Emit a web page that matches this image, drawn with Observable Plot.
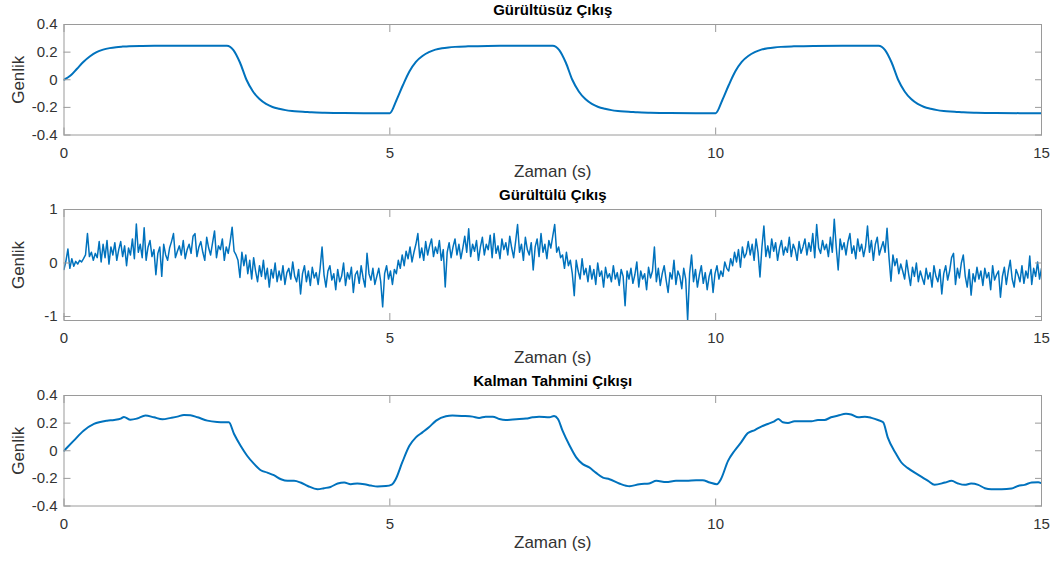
<!DOCTYPE html>
<html><head><meta charset="utf-8">
<script src="https://cdn.jsdelivr.net/npm/d3@7"></script>
<script src="https://cdn.jsdelivr.net/npm/@observablehq/plot@0.6"></script>
<style>
body{margin:0;background:#fff}
#wrap{position:relative;width:1056px;height:562px;overflow:hidden}
#wrap svg{position:absolute;left:0}
</style>
</head><body><div id="wrap"></div>
<script>
// ---------- data ----------
const titles = ["Gürültüsüz Çıkış", "Gürültülü Çıkış", "Kalman Tahmini Çıkışı"];
const xLabel = "Zaman (s)";
const yLabel = "Genlik";
const xTicks = [0, 5, 10, 15];
const yTicksSmall = [-0.4, -0.2, 0, 0.2, 0.4];
const yTicksNoisy = [-1, 0, 1];

// noise-free output
const timeTrue = [0,0.1,0.2,0.3,0.4,0.5,0.6,0.7,0.8,0.9,1.0,1.2,1.5,2.0,2.5,
 2.6,2.7,2.8,2.9,3.0,3.1,3.2,3.3,3.4,3.5,3.6,3.7,3.8,4.0,4.3,5.0,
 5.1,5.2,5.3,5.4,5.5,5.6,5.7,5.8,5.9,6.0,6.2,6.5,7.0,7.5,
 7.6,7.7,7.8,7.9,8.0,8.1,8.2,8.3,8.4,8.5,8.6,8.7,8.8,9.0,9.3,10.0,
 10.1,10.2,10.3,10.4,10.5,10.6,10.7,10.8,10.9,11.0,11.2,11.5,12.0,12.5,
 12.6,12.7,12.8,12.9,13.0,13.1,13.2,13.3,13.4,13.5,13.6,13.7,13.8,14.0,14.3,15.0];
const yTrue = [0,0.03,0.08,0.13,0.17,0.20,0.218,0.229,0.236,0.240,0.243,0.245,0.246,0.246,0.246,
 0.215,0.125,0.0,-0.085,-0.14,-0.175,-0.197,-0.21,-0.22,-0.226,-0.23,-0.233,-0.236,-0.239,-0.241,-0.242,
 -0.15,-0.04,0.06,0.13,0.172,0.200,0.218,0.228,0.234,0.238,0.242,0.245,0.246,0.246,
 0.215,0.125,0.0,-0.085,-0.14,-0.175,-0.197,-0.21,-0.22,-0.226,-0.23,-0.233,-0.236,-0.239,-0.241,-0.242,
 -0.15,-0.04,0.06,0.13,0.172,0.200,0.218,0.228,0.234,0.238,0.242,0.245,0.246,0.246,
 0.215,0.125,0.0,-0.085,-0.14,-0.175,-0.197,-0.21,-0.22,-0.226,-0.23,-0.233,-0.236,-0.239,-0.241,-0.242];

// noisy output, sampled every noisyDt seconds
const noisyDt = 0.03;
const yNoisy = [
 -0.12,0.04,0.26,-0.10,0.08,-0.06,0.03,-0.02,0.05,0.02,
 0.08,0.15,0.55,0.12,0.20,0.05,0.18,0.10,0.40,0.02,
 0.35,0.10,0.42,-0.02,0.30,0.15,0.38,0.05,0.25,0.40,
 0.12,0.32,-0.05,0.28,0.15,0.45,0.08,0.73,0.20,0.35,
 0.10,0.66,0.05,0.30,0.42,0.12,0.25,-0.22,0.18,0.30,
 -0.25,0.35,0.15,0.05,0.28,0.40,0.55,0.10,0.22,0.32,
 0.15,0.42,0.08,0.25,0.35,0.18,0.50,0.55,0.12,0.30,
 0.40,0.20,0.05,0.48,0.28,0.15,0.38,0.60,0.10,0.32,
 0.25,0.45,0.05,0.30,0.18,0.40,0.67,0.22,0.15,0.05,
 -0.27,0.20,-0.05,0.15,-0.20,0.05,-0.30,0.10,-0.15,-0.35,
 -0.05,-0.25,0.05,-0.30,-0.10,-0.45,-0.12,-0.28,0.00,-0.35,
 -0.15,-0.32,-0.05,-0.40,-0.18,-0.10,-0.30,0.02,-0.25,-0.35,
 -0.12,-0.58,-0.20,-0.05,-0.35,-0.15,-0.42,-0.08,-0.28,-0.18,
 -0.40,-0.10,0.30,-0.22,-0.45,-0.15,-0.05,-0.32,-0.20,-0.50,
 -0.12,-0.35,-0.25,0.00,-0.42,-0.18,-0.30,-0.08,-0.55,-0.22,
 -0.15,-0.38,-0.05,-0.28,-0.45,0.18,-0.20,-0.32,-0.10,-0.40,
 -0.25,-0.10,-0.35,-0.82,-0.20,-0.05,-0.30,-0.15,-0.40,-0.12,
 -0.20,0.05,-0.10,0.15,-0.05,0.22,0.08,0.30,0.02,0.20,
 0.35,0.55,0.10,0.28,0.05,0.40,0.15,0.32,0.45,0.12,
 0.30,0.18,0.42,0.05,0.25,-0.45,0.20,0.38,0.10,0.30,
 0.45,0.15,0.35,0.08,0.28,0.50,0.20,0.64,0.12,0.35,
 0.22,0.42,0.05,0.30,0.48,0.15,0.35,0.25,0.52,0.10,
 0.55,0.18,0.32,0.08,0.45,0.25,0.38,0.15,0.50,0.28,
 0.10,0.40,0.72,0.20,0.35,0.05,0.48,0.25,0.15,0.38,
 -0.13,0.30,0.45,0.12,0.55,0.20,0.35,0.08,0.42,0.28,
 0.50,0.72,0.20,0.30,0.10,0.15,-0.10,0.20,-0.05,0.05,
 -0.20,-0.61,0.05,-0.15,-0.30,0.08,-0.22,-0.10,-0.35,-0.05,
 -0.30,-0.12,-0.40,0.00,-0.25,-0.15,-0.45,-0.08,-0.28,-0.20,
 -0.35,-0.05,-0.30,-0.18,-0.42,-0.12,-0.25,-0.80,-0.15,-0.30,
 -0.10,-0.38,-0.22,0.02,-0.45,-0.15,-0.30,-0.20,-0.50,-0.08,
 -0.28,-0.15,0.30,-0.35,-0.10,-0.42,-0.20,-0.05,-0.32,-0.55,
 -0.18,-0.30,0.05,-0.40,-0.15,-0.25,-0.48,-0.10,-0.30,-1.07,
 -0.20,0.15,-0.35,-0.12,-0.45,-0.22,-0.05,-0.38,-0.18,-0.50,
 -0.25,-0.12,-0.55,-0.20,-0.05,-0.30,-0.15,-0.25,0.02,-0.10,
 -0.15,0.08,-0.05,0.20,0.02,0.25,-0.08,0.30,0.10,0.18,
 0.40,0.15,0.35,0.05,0.45,0.20,-0.26,0.30,0.69,0.12,
 0.32,0.10,0.45,0.22,0.38,0.05,0.28,0.42,0.15,0.30,
 0.20,0.48,0.12,0.35,0.25,0.05,0.40,0.18,0.30,0.45,
 0.15,0.38,0.22,0.55,0.10,0.72,0.28,0.18,0.42,0.25,
 0.35,0.12,0.48,0.20,0.82,0.30,-0.13,0.45,0.25,0.38,
 0.15,0.40,0.55,0.18,0.32,0.08,0.45,0.22,0.35,0.12,
 0.30,0.69,0.20,0.42,0.05,0.35,0.48,0.15,0.28,0.40,
 0.20,0.65,0.10,-0.34,0.15,-0.05,0.08,-0.20,-0.02,-0.15,
 -0.30,0.05,-0.20,-0.42,-0.08,-0.25,0.00,-0.35,-0.15,-0.28,
 -0.40,-0.10,-0.30,-0.18,-0.45,-0.05,-0.25,-0.35,-0.12,-0.58,
 -0.20,-0.05,-0.32,-0.15,0.10,0.18,-0.40,-0.10,-0.28,0.00,
 0.15,-0.25,-0.45,-0.12,-0.60,-0.20,-0.35,-0.08,-0.30,-0.15,
 -0.42,-0.10,-0.28,-0.18,-0.50,-0.05,-0.32,-0.22,-0.15,-0.64,
 -0.25,-0.08,-0.40,-0.15,0.05,-0.30,-0.45,-0.12,-0.22,-0.35,
 -0.05,-0.38,-0.15,-0.28,0.13,-0.40,-0.10,-0.25,0.02,-0.30,
 -0.10];

// Kalman estimate
const timeKalman = [0.00,0.15,0.30,0.46,0.66,0.77,0.87,0.92,1.02,1.12,1.25,1.38,1.51,1.64,1.74,1.84,1.94,2.05,2.20,2.35,2.46,2.53,
 2.61,2.71,2.81,2.92,3.02,3.12,3.22,3.33,3.43,3.53,3.63,3.74,3.89,3.99,4.09,4.20,4.30,4.40,4.50,4.61,4.71,4.81,4.94,5.03,
 5.09,5.19,5.30,5.40,5.50,5.60,5.71,5.86,5.96,6.12,6.27,6.37,6.47,6.58,6.68,6.78,6.94,7.09,7.19,7.29,7.45,7.52,7.58,
 7.65,7.76,7.86,7.96,8.06,8.16,8.27,8.37,8.52,8.68,8.83,8.98,9.09,9.24,9.39,9.55,9.70,9.80,9.91,10.02,
 10.08,10.19,10.29,10.39,10.49,10.60,10.70,10.80,10.90,10.96,11.03,11.11,11.21,11.36,11.47,11.57,11.67,11.77,11.88,12.00,12.08,12.19,12.29,12.39,12.49,12.57,
 12.64,12.77,12.85,12.95,13.11,13.26,13.36,13.52,13.62,13.72,13.82,13.92,14.03,14.13,14.23,14.39,14.54,14.64,14.74,14.85,14.95,15.00];
const yKalman = [0.000,0.073,0.145,0.194,0.218,0.223,0.233,0.245,0.225,0.233,0.255,0.242,0.228,0.238,0.247,0.259,0.257,0.242,0.218,0.208,0.206,0.206,
 0.121,0.036,-0.036,-0.097,-0.141,-0.158,-0.177,-0.206,-0.218,-0.218,-0.230,-0.255,-0.279,-0.271,-0.262,-0.237,-0.230,-0.242,-0.237,-0.242,-0.252,-0.259,-0.256,-0.245,
 -0.206,-0.085,0.036,0.097,0.133,0.170,0.218,0.250,0.255,0.252,0.247,0.238,0.247,0.247,0.230,0.223,0.228,0.233,0.242,0.247,0.242,0.252,0.230,
 0.145,0.036,-0.048,-0.097,-0.121,-0.158,-0.194,-0.206,-0.237,-0.257,-0.242,-0.237,-0.218,-0.226,-0.218,-0.218,-0.213,-0.213,-0.230,-0.242,
 -0.206,-0.073,0.000,0.061,0.126,0.150,0.175,0.194,0.213,0.230,0.206,0.201,0.213,0.213,0.213,0.223,0.223,0.242,0.255,0.267,0.262,0.242,0.247,0.238,0.223,0.206,
 0.097,-0.024,-0.085,-0.126,-0.175,-0.218,-0.247,-0.230,-0.218,-0.237,-0.247,-0.237,-0.247,-0.271,-0.279,-0.279,-0.274,-0.255,-0.247,-0.230,-0.228,-0.235];

// ---------- tables ----------
const trueData = timeTrue.map((t, i) => ({t, v: yTrue[i]}));
const noisyData = yNoisy.map((v, i) => ({t: i * noisyDt, v}));
const kalmanData = timeKalman.map((t, i) => ({t, v: yKalman[i]}));

// ---------- drawing ----------
const BLUE = "#0072BD";
const AXIS = "#9a9a9a";
const TXT = "#333333";
const fmt = d => String(d);

function panel({data, title, yDomain, yTicks, strokeWidth, curve, top, height, marginBottom}) {
  const svg = Plot.plot({
    width: 1056,
    height,
    marginTop: 24,
    marginBottom,
    marginLeft: 63.5,
    marginRight: 15,
    style: {fontFamily: "'Liberation Sans', Arial, Helvetica, sans-serif", background: "#fff", overflow: "visible"},
    x: {domain: [0, 15]},
    y: {domain: yDomain},
    marks: [
      Plot.line(data, {x: "t", y: "v", stroke: BLUE, strokeWidth, curve, clip: true}),
      Plot.frame({stroke: AXIS, strokeWidth: 1}),
      // inward tick marks on all four sides
      Plot.axisX(xTicks, {anchor: "bottom", tickSize: -7, stroke: AXIS, fill: "none", label: null}),
      Plot.axisX(xTicks, {anchor: "top", tickSize: -7, stroke: AXIS, fill: "none", label: null}),
      Plot.axisY(yTicks, {anchor: "left", tickSize: -7, stroke: AXIS, fill: "none", label: null}),
      Plot.axisY(yTicks, {anchor: "right", tickSize: -7, stroke: AXIS, fill: "none", label: null}),
      // tick labels
      Plot.axisX(xTicks, {anchor: "bottom", tickSize: 0, tickPadding: 12, fill: TXT, fontSize: 15, tickFormat: fmt, label: null}),
      Plot.axisY(yTicks, {anchor: "left", tickSize: 0, tickPadding: 6.5, fill: TXT, fontSize: 15, tickFormat: fmt, label: null}),
      // labels and title
      Plot.text([xLabel], {frameAnchor: "bottom", dy: 37, lineAnchor: "middle", fontSize: 17, fill: TXT}),
      Plot.text([yLabel], {frameAnchor: "left", dx: -45.5, rotate: -90, lineAnchor: "middle", textAnchor: "middle", fontSize: 17, fill: TXT}),
      Plot.text([title], {frameAnchor: "top", dy: -14, lineAnchor: "middle", fontSize: 15, fontWeight: "bold", fill: "#000"})
    ]
  });
  svg.style.top = top + "px";
  return svg;
}

const wrap = document.getElementById("wrap");
wrap.appendChild(panel({data: trueData, title: titles[0], yDomain: [-0.4, 0.4], yTicks: yTicksSmall, strokeWidth: 2, curve: "monotone-x", top: 0, height: 185, marginBottom: 50.5}));
wrap.appendChild(panel({data: noisyData, title: titles[1], yDomain: [-1.075, 1], yTicks: yTicksNoisy, strokeWidth: 1.5, curve: "linear", top: 185, height: 187, marginBottom: 52}));
wrap.appendChild(panel({data: kalmanData, title: titles[2], yDomain: [-0.4, 0.4], yTicks: yTicksSmall, strokeWidth: 2, curve: "monotone-x", top: 371, height: 191, marginBottom: 56.5}));
</script>
</body></html>
